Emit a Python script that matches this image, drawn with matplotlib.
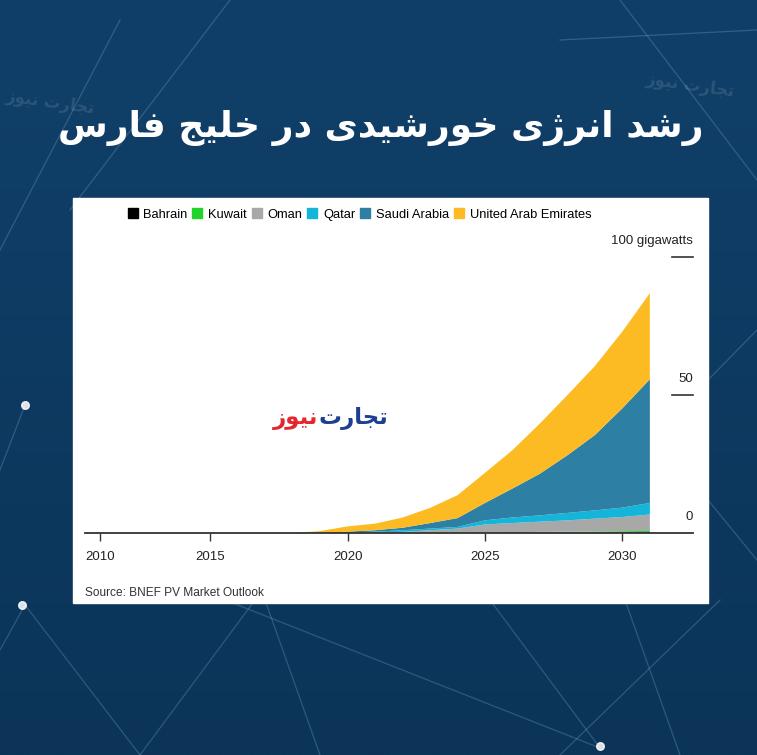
import matplotlib
matplotlib.use("Agg")
import matplotlib.pyplot as plt
import matplotlib.patches as mpatches
import matplotlib.transforms as mtransforms
from matplotlib.lines import Line2D
import numpy as np

# ---- data (GW) ----
years = list(range(2011, 2032))
bahrain = [0]*13 + [0.05, 0.10, 0.12, 0.15, 0.18, 0.20, 0.25, 0.30]
kuwait = [0]*11 + [0.05, 0.10, 0.10, 0.15, 0.20, 0.25, 0.30, 0.35, 0.40, 0.45]
oman = [0]*10 + [0.20, 0.35, 0.90, 1.45, 2.85, 3.30, 3.70, 4.10, 4.65, 5.15, 5.95]
qatar = [0]*9 + [0.10, 0.30, 0.60, 0.60, 0.60, 1.50, 2.00, 2.30, 2.70, 3.00, 3.40, 4.20]
saudi = [0]*9 + [0.40, 0.50, 0.90, 2.00, 3.20, 6.30, 10.5, 15.1, 20.9, 27.3, 36.0, 44.8]
uae = [0]*7 + [0.0, 0.70, 1.90, 2.40, 3.70, 5.50, 8.30, 10.9, 13.9, 18.2, 21.8, 25.0, 27.8, 31.2]

countries = ["Bahrain", "Kuwait", "Oman", "Qatar", "Saudi Arabia", "United Arab Emirates"]
colors = ["#000000", "#22d32a", "#a8a8a8", "#14b5d8", "#2e7fa4", "#fcbb22"]

tick_pos = [2011, 2015, 2020, 2025, 2030]
tick_labels = ["2010", "2015", "2020", "2025", "2030"]
y_ticks = [0, 50, 100]
y_labels = ["0", "50", "100 gigawatts"]

title = "رشد انرژی خورشیدی در خلیج فارس"
logo_a = "تجارت"
logo_b = "نیوز"
source = "Source: BNEF PV Market Outlook"

# ---- minimal Persian shaping (presentation forms + reversal) ----
FORMS = {
    "ا": ("\uFE8D", "\uFE8E"), "د": ("\uFEA9", "\uFEAA"), "ر": ("\uFEAD", "\uFEAE"),
    "ز": ("\uFEAF", "\uFEB0"), "ژ": ("\uFB8A", "\uFB8B"), "و": ("\uFEED", "\uFEEE"),
    "ت": ("\uFE95", "\uFE96", "\uFE97", "\uFE98"), "ج": ("\uFE9D", "\uFE9E", "\uFE9F", "\uFEA0"),
    "خ": ("\uFEA5", "\uFEA6", "\uFEA7", "\uFEA8"), "س": ("\uFEB1", "\uFEB2", "\uFEB3", "\uFEB4"),
    "ش": ("\uFEB5", "\uFEB6", "\uFEB7", "\uFEB8"), "ف": ("\uFED1", "\uFED2", "\uFED3", "\uFED4"),
    "ل": ("\uFEDD", "\uFEDE", "\uFEDF", "\uFEE0"), "ن": ("\uFEE5", "\uFEE6", "\uFEE7", "\uFEE8"),
    "ی": ("\uFBFC", "\uFBFD", "\uFBFE", "\uFBFF"),
}


def shape(text):
    out = []
    for i, ch in enumerate(text):
        f = FORMS.get(ch)
        if f is None:
            out.append(ch)
            continue
        prev = text[i - 1] if i > 0 else ""
        nxt = text[i + 1] if i + 1 < len(text) else ""
        join_prev = prev in FORMS and len(FORMS[prev]) == 4
        join_next = len(f) == 4 and nxt in FORMS
        if join_prev and join_next:
            out.append(f[3])
        elif join_prev:
            out.append(f[1])
        elif join_next:
            out.append(f[2])
        else:
            out.append(f[0])
    return "".join(reversed(out))


W, H = 757, 755
fig = plt.figure(figsize=(W / 100, H / 100), dpi=100)

# background
bg = fig.add_axes([0, 0, 1, 1], zorder=-10)
grad = np.linspace(0, 1, 256).reshape(-1, 1)
bg.imshow(grad, aspect="auto", extent=[0, W, H, 0],
          cmap=matplotlib.colors.LinearSegmentedColormap.from_list("bg", ["#10406a", "#0b3458"]))
net = [((0, 250), (120, 20)), ((230, 0), (70, 210)), ((560, 40), (757, 30)),
       ((620, 0), (757, 180)), ((25, 405), (0, 470)), ((25, 605), (140, 755)),
       ((25, 605), (0, 650)), ((225, 600), (600, 748)), ((265, 600), (320, 755)),
       ((255, 600), (140, 755)), ((490, 600), (600, 748)), ((720, 600), (560, 755)),
       ((625, 600), (680, 755)), ((708, 380), (757, 330)), ((708, 500), (757, 560))]
for (x0, y0), (x1, y1) in net:
    bg.plot([x0, x1], [y0, y1], color="#6f9cc0", lw=0.9, alpha=0.35)
bg.scatter([25, 22, 600], [405, 605, 746], s=30, color="white", alpha=0.85, zorder=3)
bg.set_xlim(0, W)
bg.set_ylim(H, 0)
bg.axis("off")

# faint watermarks in the background
for x, y in [(50, 102), (690, 85)]:
    bg.text(x, y, shape(logo_a + " " + logo_b), color="white", alpha=0.12, fontsize=12,
            fontweight="bold", family="DejaVu Sans", ha="center", va="center", rotation=-8)

fig.text(381 / W, 1 - 128 / H, shape(title), color="white", fontsize=26,
         fontweight="bold", family="DejaVu Sans", ha="center", va="center")

# white panel
fig.patches.append(mpatches.Rectangle((73 / W, 1 - 603 / H), 635 / W, 405 / H,
                                      transform=fig.transFigure, color="white", zorder=-5))

narrow = ["Liberation Sans Narrow", "Liberation Sans", "DejaVu Sans"]

ax = fig.add_axes([85 / W, 1 - 533 / H, 608 / W, 276 / H])
ax.stackplot(years, bahrain, kuwait, oman, qatar, saudi, uae, colors=colors, lw=0)
ax.set_xlim(2010.44, 2032.57)
ax.set_ylim(0, 100)
ax.patch.set_alpha(0)
for s in ["top", "right", "left"]:
    ax.spines[s].set_visible(False)
ax.spines["bottom"].set_color("#333333")
ax.spines["bottom"].set_linewidth(1.3)
ax.set_yticks([])
ax.set_xticks(tick_pos)
ax.set_xticklabels(tick_labels, family=narrow, fontsize=9.5, color="#222222")
ax.tick_params(axis="x", length=6, width=1, color="#333333", pad=7)

tr = mtransforms.blended_transform_factory(ax.transAxes, ax.transData)
for v, lab in zip(y_ticks, y_labels):
    if v > 0:
        ax.plot([0.9655, 1.0], [v, v], transform=tr, color="#333333", lw=1.2, clip_on=False)
    ax.annotate(lab, (1.0, v), xycoords=tr, xytext=(0, 7), textcoords="offset points",
                ha="right", va="bottom", family=narrow, fontsize=9.5, color="#222222")

handles = [Line2D([], [], marker="s", ls="", color=c, markersize=6.5) for c in colors]
fig.legend(handles, countries, loc="upper left", bbox_to_anchor=(117 / W, 1 - 197 / H),
           ncol=6, frameon=False, handlelength=0.6, handletextpad=0.55, columnspacing=0.45,
           prop={"family": narrow, "size": 9.3})

fig.text(85 / W, 1 - 593 / H, source, family=narrow, fontsize=8.6, color="#333333",
         ha="left", va="center")

# watermark logo
fig.text(318 / W, 1 - 418 / H, shape(logo_a), color="#1c3f91", fontsize=16.5,
         fontweight="bold", family="DejaVu Sans", ha="left", va="center")
fig.text(318 / W, 1 - 418 / H, shape(logo_b), color="#e5262e", fontsize=16.5,
         fontweight="bold", family="DejaVu Sans", ha="right", va="center")

fig.savefig("out.png", dpi=100)
